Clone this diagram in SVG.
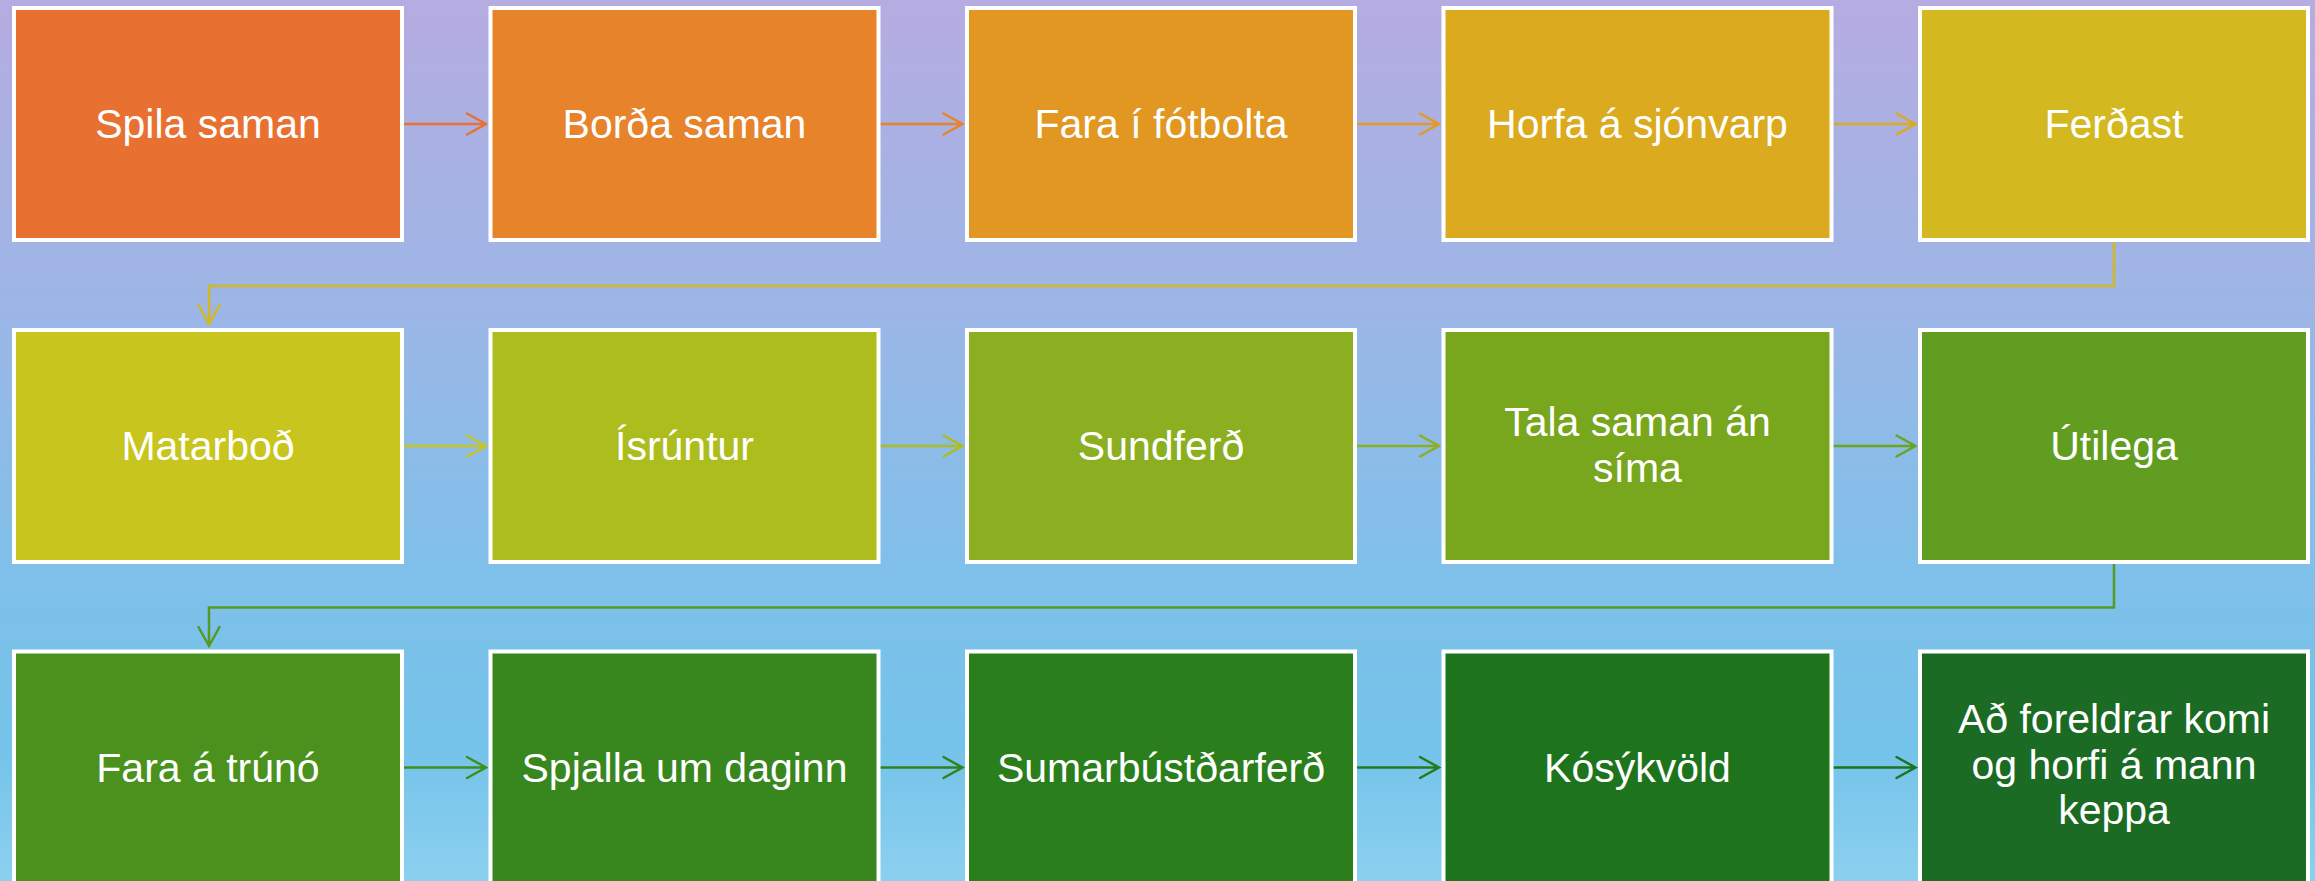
<svg xmlns="http://www.w3.org/2000/svg" width="2315" height="881" viewBox="0 0 2315 881">
<defs>
<linearGradient id="bg" x1="0" y1="0" x2="0" y2="1">
<stop offset="0" stop-color="#B6ACE1"/>
<stop offset="0.35" stop-color="#9CB6E6"/>
<stop offset="0.65" stop-color="#7FC0EA"/>
<stop offset="0.85" stop-color="#74C3EA"/>
<stop offset="1" stop-color="#8CD0EF"/>
</linearGradient>
</defs>
<style>
.box{stroke:#FFFFFF;stroke-width:4}
.lbl{font-family:"Liberation Sans",Arial,sans-serif;font-size:41px;fill:#FFFFFF;text-anchor:middle}
.con{fill:none;stroke-width:2.5;stroke-linecap:round;stroke-linejoin:miter}
</style>
<rect x="0" y="0" width="2315" height="881" fill="url(#bg)"/>
<g id="connectors">
<path class="con" stroke="#E8722F" d="M404 124 H486 M467 113.5 L486 124 L467 134.5"/>
<path class="con" stroke="#E6832B" d="M880.5 124 H962.5 M943.5 113.5 L962.5 124 L943.5 134.5"/>
<path class="con" stroke="#E29A24" d="M1357 124 H1439 M1420 113.5 L1439 124 L1420 134.5"/>
<path class="con" stroke="#DBAA1E" d="M1833.5 124 H1915.5 M1896.5 113.5 L1915.5 124 L1896.5 134.5"/>
<path class="con" stroke="#D3B81F" d="M2114 242 V286 H209 V324 M198.5 305 L209 324 L219.5 305"/>
<path class="con" stroke="#C8C51E" d="M404 446 H486 M467 435.5 L486 446 L467 456.5"/>
<path class="con" stroke="#ADBD1E" d="M880.5 446 H962.5 M943.5 435.5 L962.5 446 L943.5 456.5"/>
<path class="con" stroke="#8BAF20" d="M1357 446 H1439 M1420 435.5 L1439 446 L1420 456.5"/>
<path class="con" stroke="#6CA320" d="M1833.5 446 H1915.5 M1896.5 435.5 L1915.5 446 L1896.5 456.5"/>
<path class="con" stroke="#559A22" d="M2114 564 V607.5 H209 V646 M198.5 627 L209 646 L219.5 627"/>
<path class="con" stroke="#3F8E1F" d="M404 767.5 H486 M467 757 L486 767.5 L467 778"/>
<path class="con" stroke="#30821E" d="M880.5 767.5 H962.5 M943.5 757 L962.5 767.5 L943.5 778"/>
<path class="con" stroke="#257A1E" d="M1357 767.5 H1439 M1420 757 L1439 767.5 L1420 778"/>
<path class="con" stroke="#1D731F" d="M1833.5 767.5 H1915.5 M1896.5 757 L1915.5 767.5 L1896.5 778"/>
</g>
<g id="n1"><rect class="box" x="14" y="8" width="388" height="232" fill="#E87132"/><text class="lbl" x="208" y="138">Spila saman</text></g>
<g id="n2"><rect class="box" x="490.5" y="8" width="388" height="232" fill="#E6832B"/><text class="lbl" x="684.5" y="138">Borða saman</text></g>
<g id="n3"><rect class="box" x="967" y="8" width="388" height="232" fill="#E19721"/><text class="lbl" x="1161" y="138">Fara í fótbolta</text></g>
<g id="n4"><rect class="box" x="1443.5" y="8" width="388" height="232" fill="#DBAA1E"/><text class="lbl" x="1637.5" y="138">Horfa á sjónvarp</text></g>
<g id="n5"><rect class="box" x="1920" y="8" width="388" height="232" fill="#D3B81F"/><text class="lbl" x="2114" y="138">Ferðast</text></g>
<g id="n6"><rect class="box" x="14" y="330" width="388" height="232" fill="#C8C51E"/><text class="lbl" x="208" y="460">Matarboð</text></g>
<g id="n7"><rect class="box" x="490.5" y="330" width="388" height="232" fill="#ADBD1E"/><text class="lbl" x="684.5" y="460">Ísrúntur</text></g>
<g id="n8"><rect class="box" x="967" y="330" width="388" height="232" fill="#8BAF20"/><text class="lbl" x="1161" y="460">Sundferð</text></g>
<g id="n9"><rect class="box" x="1443.5" y="330" width="388" height="232" fill="#78A61C"/><text class="lbl" x="1637.5" y="436">Tala saman án</text><text class="lbl" x="1637.5" y="482">síma</text></g>
<g id="n10"><rect class="box" x="1920" y="330" width="388" height="232" fill="#609D20"/><text class="lbl" x="2114" y="460">Útilega</text></g>
<g id="n11"><rect class="box" x="14" y="651.5" width="388" height="232" fill="#4A911E"/><text class="lbl" x="208" y="781.5">Fara á trúnó</text></g>
<g id="n12"><rect class="box" x="490.5" y="651.5" width="388" height="232" fill="#38861E"/><text class="lbl" x="684.5" y="781.5">Spjalla um daginn</text></g>
<g id="n13"><rect class="box" x="967" y="651.5" width="388" height="232" fill="#2A7E1C"/><text class="lbl" x="1161" y="781.5">Sumarbústðarferð</text></g>
<g id="n14"><rect class="box" x="1443.5" y="651.5" width="388" height="232" fill="#1D741C"/><text class="lbl" x="1637.5" y="781.5">Kósýkvöld</text></g>
<g id="n15"><rect class="box" x="1920" y="651.5" width="388" height="232" fill="#1B6B24"/><text class="lbl" x="2114" y="733">Að foreldrar komi</text><text class="lbl" x="2114" y="778.5">og horfi á mann</text><text class="lbl" x="2114" y="824">keppa</text></g>
</svg>
